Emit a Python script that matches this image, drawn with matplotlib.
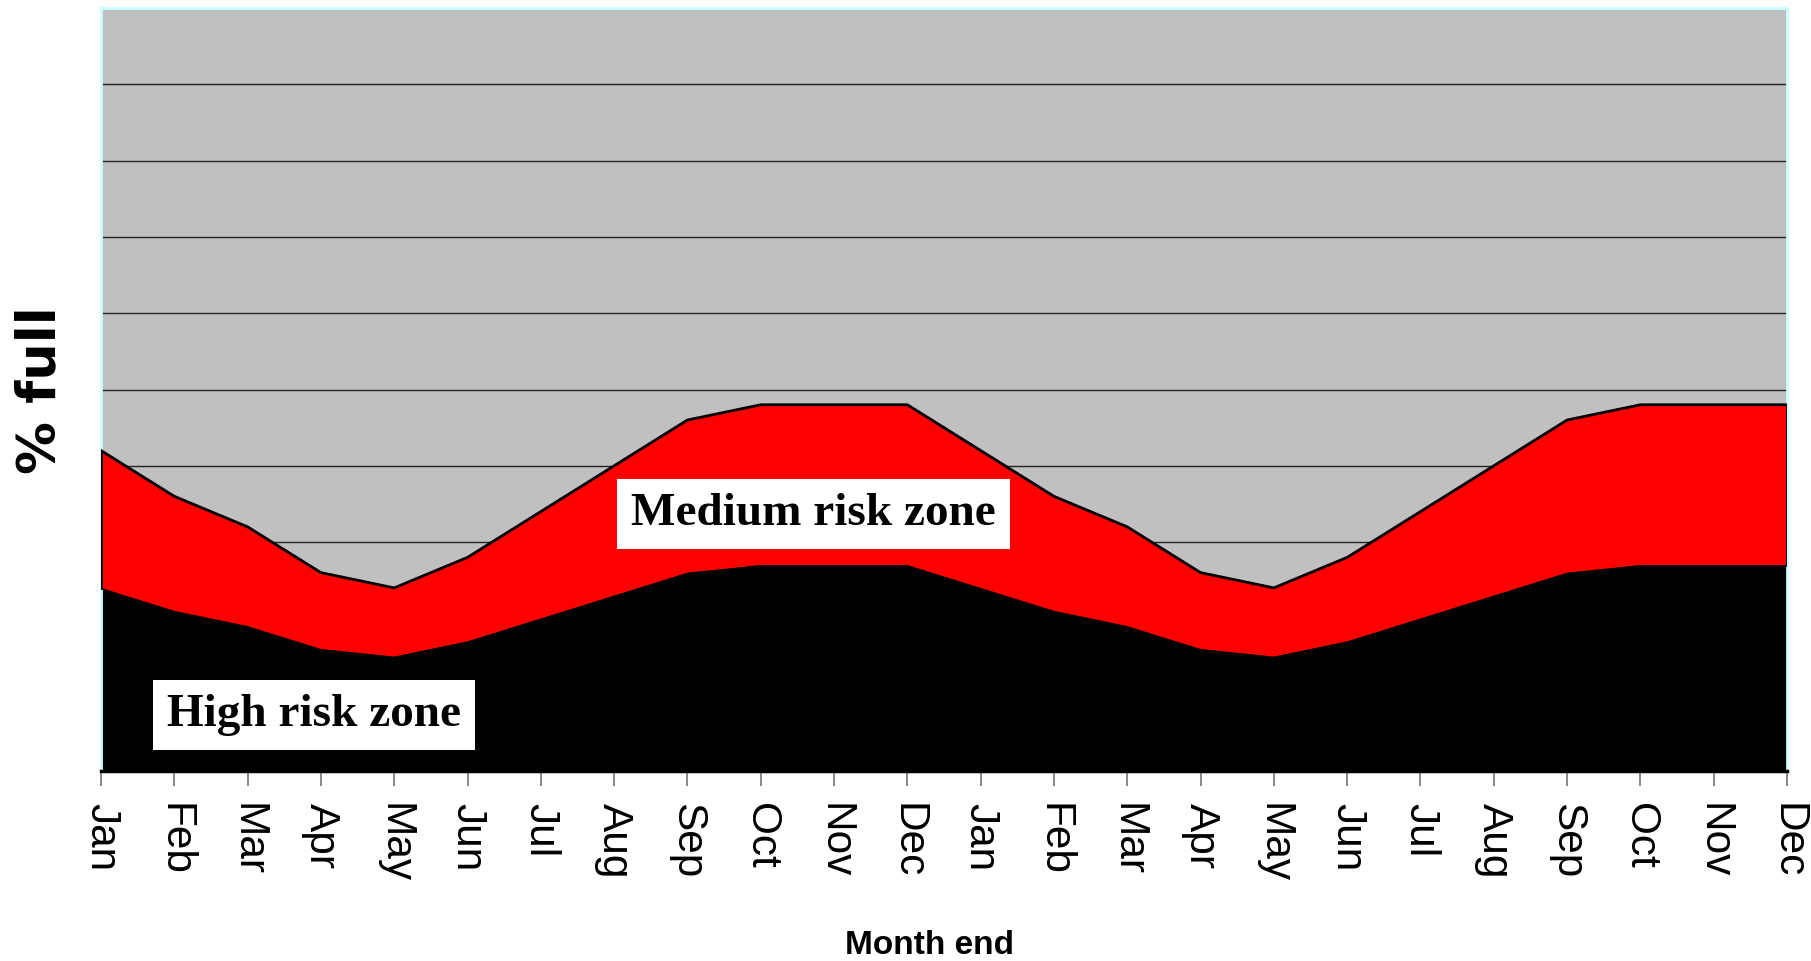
import matplotlib
matplotlib.use("Agg")
import matplotlib.pyplot as plt
import numpy as np

# Two years of month-end reservoir levels (% full)
months = ["Jan", "Feb", "Mar", "Apr", "May", "Jun",
          "Jul", "Aug", "Sep", "Oct", "Nov", "Dec"] * 2
high_risk_limit = [24, 21, 19, 16, 15, 17, 20, 23, 26, 27, 27, 27] * 2
medium_risk_limit = [42, 36, 32, 26, 24, 28, 34, 40, 46, 48, 48, 48] * 2

x = np.arange(len(months))
high = np.array(high_risk_limit, dtype=float)
medium = np.array(medium_risk_limit, dtype=float)

fig = plt.figure(figsize=(18.11, 9.61), dpi=100)
ax = fig.add_axes([101 / 1811, 1 - 771 / 961, 1686 / 1811, 763 / 961])
ax.set_facecolor("#c0c0c0")

# Stacked zones: high risk at the bottom, medium risk above it
ax.fill_between(x, 0, high, facecolor="black", edgecolor="black", lw=1.5, zorder=2)
ax.fill_between(x, high, medium, facecolor="#ff0000", edgecolor="none", zorder=2)
ax.plot(x, medium, color="black", lw=2, zorder=3)
ax.plot([x[0], x[0]], [high[0], medium[0]], color="black", lw=2, zorder=3)
ax.plot([x[-1], x[-1]], [high[-1], medium[-1]], color="black", lw=2, zorder=3)

ax.set_xlim(0, len(months) - 1)
ax.set_ylim(0, 100)
ax.set_yticks(np.arange(10, 100, 10))
ax.yaxis.grid(True, color="#222222", lw=1)
ax.set_axisbelow(True)
ax.tick_params(axis="y", left=False, labelleft=False)

ax.set_xticks(x)
ax.set_xticklabels(months, rotation=270, fontsize=30.5, family="Liberation Sans")
ax.tick_params(axis="x", direction="out", length=11, width=1.2, color="#777777", pad=12)

for side in ("top", "left", "right"):
    ax.spines[side].set_color("#ccffff")
    ax.spines[side].set_linewidth(2)
ax.spines["bottom"].set_color("black")
ax.spines["bottom"].set_linewidth(2.5)
ax.spines["bottom"].set_zorder(4)

label_box = dict(boxstyle="square,pad=0.3", facecolor="white", edgecolor="none")
ax.text(9.72, 33.7, "Medium risk zone", fontsize=34, fontweight="bold",
        family="Liberation Serif", ha="center", va="center", bbox=label_box, zorder=5)
ax.text(2.91, 7.3, "High risk zone", fontsize=34, fontweight="bold",
        family="Liberation Serif", ha="center", va="center", bbox=label_box, zorder=5)

fig.text(40 / 1811, 1 - 390 / 961, "% full", rotation=90, fontsize=38,
         fontweight="bold", family="DejaVu Sans", ha="center", va="center")
fig.text(929.5 / 1811, 1 - 946 / 961, "Month end", fontsize=24,
         fontweight="bold", family="Liberation Sans", ha="center", va="center")

fig.savefig("out.png", dpi=100)
